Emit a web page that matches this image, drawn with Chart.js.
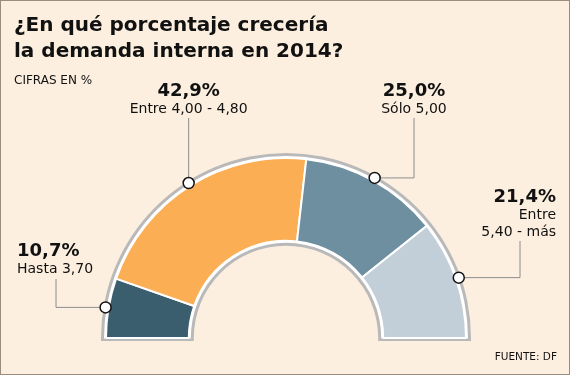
<!DOCTYPE html>
<html>
<head>
<meta charset="utf-8">
<script src="https://cdn.jsdelivr.net/npm/chart.js@4"></script>
<style>
  html, body { margin: 0; padding: 0; }
  #wrap {
    position: relative; width: 570px; height: 375px; box-sizing: border-box;
    background: #fcefdf; border: 1px solid #9c8c7c; overflow: hidden;
    font-family: 'DejaVu Sans', sans-serif; color: #111;
  }
  #titulo { position: absolute; left: 13px; top: 10px; font-weight: bold; font-size: 20px; line-height: 26px; }
  #sub { position: absolute; left: 13px; top: 72px; font-size: 12px; }
  #fuente { position: absolute; right: 12px; top: 349px; font-size: 10.5px; }
  canvas { position: absolute; left: 0; top: 0; }
</style>
</head>
<body>
<div id="wrap">
  <canvas id="chartDemanda" width="570" height="375"></canvas>
  <div id="titulo">¿En qué porcentaje crecería<br>la demanda interna en 2014?</div>
  <div id="sub">CIFRAS EN %</div>
  <div id="fuente">FUENTE: DF</div>
</div>
<script>
// datos: respuestas sobre crecimiento de la demanda interna 2014
const rangos = [['Hasta 3,70'], ['Entre 4,00 - 4,80'], ['Sólo 5,00'], ['Entre', '5,40 - más']];
const porcentajes = [10.7, 42.9, 25.0, 21.4];
const colores = ['#3b5e6f', '#fbae54', '#6e8f9f', '#c2cfd8'];

// ubicación de las llamadas (codo de la línea, tope, texto)
const llamadas = [
  { codoX: 55, topeY: 278, align: 'left', textoX: 16, baseY: 255 },
  { codoX: null, topeY: 117, align: 'center', textoX: null, baseY: 95 },
  { codoX: 413, topeY: 117, align: 'center', textoX: null, baseY: 95 },
  { codoX: 519, topeY: 240, align: 'right', textoX: 555, baseY: 201 },
];

const fmt = (v) => v.toFixed(1).replace('.', ',') + '%';

// contorno gris + blanco del semianillo
const contorno = {
  id: 'contorno',
  beforeDatasetsDraw(chart) {
    const arcs = chart.getDatasetMeta(0).data;
    if (!arcs.length) return;
    const { x, y, outerRadius, innerRadius } = arcs[0];
    const c = chart.ctx;
    const forma = (ext, int, abajo, color) => {
      const ro = outerRadius + ext, ri = innerRadius - int;
      c.beginPath();
      c.moveTo(x - ro, y + abajo);
      c.lineTo(x - ro, y);
      c.arc(x, y, ro, Math.PI, 2 * Math.PI);
      c.lineTo(x + ro, y + abajo);
      c.lineTo(x + ri, y + abajo);
      c.lineTo(x + ri, y);
      c.arc(x, y, ri, 2 * Math.PI, Math.PI, true);
      c.lineTo(x - ri, y + abajo);
      c.closePath();
      c.fillStyle = color;
      c.fill();
    };
    c.save();
    forma(5, 5, 3, '#b9b9b9');
    forma(2, 2, 0.5, '#ffffff');
    c.restore();
  },
  afterDatasetsDraw(chart) {
    const arcs = chart.getDatasetMeta(0).data;
    const c = chart.ctx;
    c.save();
    arcs.forEach((a, i) => {
      const mid = (a.startAngle + a.endAngle) / 2;
      const r = a.outerRadius + 3;
      const mx = a.x + Math.cos(mid) * r;
      const my = a.y + Math.sin(mid) * r;
      const l = llamadas[i];
      const codoX = l.codoX == null ? mx : l.codoX;

      c.strokeStyle = '#8c8c8c';
      c.lineWidth = 1;
      c.beginPath();
      c.moveTo(mx, my);
      c.lineTo(codoX, my);
      c.lineTo(codoX, l.topeY);
      c.stroke();

      c.beginPath();
      c.arc(mx, my, 5.5, 0, 2 * Math.PI);
      c.fillStyle = '#ffffff';
      c.fill();
      c.lineWidth = 1.5;
      c.strokeStyle = '#111111';
      c.stroke();

      const tx = l.textoX == null ? codoX : l.textoX;
      c.textAlign = l.align;
      c.textBaseline = 'alphabetic';
      c.fillStyle = '#111111';
      c.font = 'bold 18px "DejaVu Sans"';
      c.fillText(fmt(porcentajes[i]), tx, l.baseY);
      c.font = '14px "DejaVu Sans"';
      rangos[i].forEach((t, k) => c.fillText(t, tx, l.baseY + 17 * (k + 1)));
    });
    c.restore();
  },
};

new Chart(document.getElementById('chartDemanda'), {
  type: 'doughnut',
  data: {
    labels: rangos.map((r) => r.join(' ')),
    datasets: [{
      data: porcentajes,
      backgroundColor: colores,
      borderColor: '#ffffff',
      borderWidth: 2,
      hoverOffset: 0,
    }],
  },
  options: {
    responsive: false,
    animation: false,
    rotation: -90,
    circumference: 180,
    radius: 180,
    cutout: '54%',
    layout: { padding: { left: 105, right: 105, top: 157, bottom: 38 } },
    plugins: {
      legend: { display: false },
      tooltip: { enabled: false },
    },
  },
  plugins: [contorno],
});
</script>
</body>
</html>
